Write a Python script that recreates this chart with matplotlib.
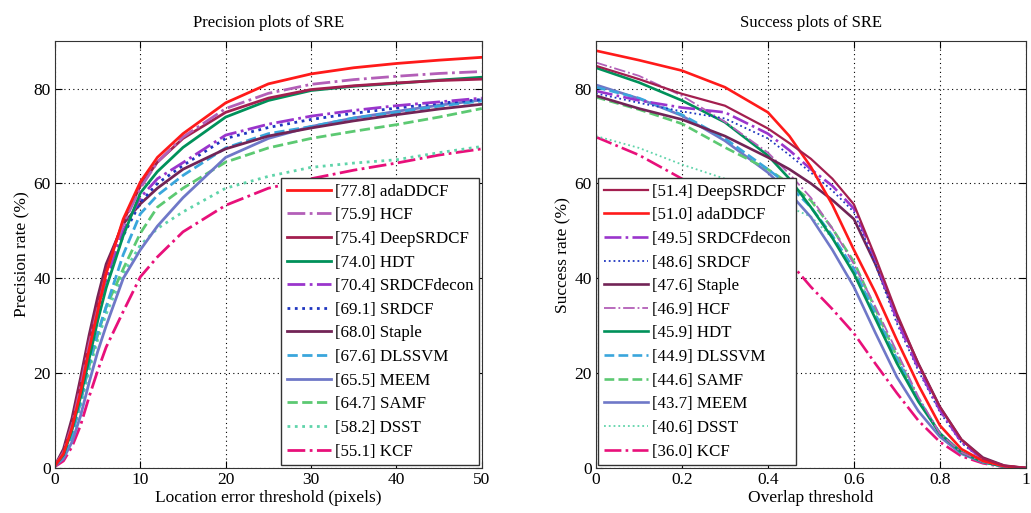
import numpy as np
import matplotlib
matplotlib.use("Agg")
import matplotlib.pyplot as plt

plt.rcParams['font.family'] = ['Liberation Serif', 'DejaVu Serif']

# ---- precision plot data (location error threshold in pixels) ----
prec_x = [0, 1, 2, 3, 4, 5, 6, 8, 10, 12, 15, 20, 25, 30, 35, 40, 45, 50]
prec_names = ["adaDDCF", "HCF", "DeepSRDCF", "HDT", "SRDCFdecon", "SRDCF",
              "Staple", "DLSSVM", "MEEM", "SAMF", "DSST", "KCF"]
prec_scores = [77.8, 75.9, 75.4, 74.0, 70.4, 69.1, 68.0, 67.6, 65.5, 64.7, 58.2, 55.1]
prec_adaDDCF = [0.5, 3, 8.5, 16, 25, 33, 41, 52.5, 60.3, 65.5, 70.5, 77, 81, 83.1, 84.4, 85.3, 86, 86.6]
prec_HCF = [0.5, 3.3, 9, 17, 26, 33.5, 41, 51.5, 59, 64.5, 69.8, 75.8, 79, 80.9, 81.9, 82.6, 83.2, 83.6]
prec_DeepSRDCF = [0.5, 3.5, 9.5, 18, 27, 34.5, 42, 52, 59.5, 64.5, 69.5, 75, 78, 79.8, 80.6, 81.2, 81.7, 82]
prec_HDT = [0.5, 2.8, 8, 15, 23, 31, 38, 49, 58, 62.5, 67.6, 74, 77.5, 79.6, 80.5, 81.1, 81.8, 82.4]
prec_SRDCFdecon = [0.5, 3.2, 9, 17, 25.5, 33, 40, 50, 57, 61, 64.4, 70.2, 72.5, 74.2, 75.4, 76.4, 77.2, 78]
prec_SRDCF = [0.5, 3, 8.8, 16.5, 25, 32.5, 39.5, 49, 56, 60, 63.8, 69.5, 71.8, 73.5, 74.8, 75.9, 76.9, 77.7]
prec_Staple = [0.5, 4, 10.5, 19, 28, 36, 43, 51.5, 55.7, 59, 63, 67.3, 70, 71.7, 73.2, 74.5, 75.7, 76.7]
prec_DLSSVM = [0.5, 2.5, 7, 14, 22, 28.5, 34, 45, 53.6, 57.5, 61.7, 67.5, 70.5, 72, 73.8, 75, 76.3, 77.4]
prec_MEEM = [0.5, 2, 5.5, 11, 18, 24.5, 30, 40, 46, 51, 57, 65.5, 69.5, 72, 73.8, 75.2, 76.5, 77.6]
prec_SAMF = [0.5, 2.5, 7, 14, 21.5, 28, 34, 42, 49.5, 55, 59, 64.5, 67.5, 69.5, 71, 72.4, 74, 75.8]
prec_DSST = [0.5, 2.2, 6.5, 13, 20.5, 27, 32.5, 41, 47, 50.5, 54, 59, 61.5, 63.4, 64.3, 65, 66.5, 67.8]
prec_KCF = [0.3, 1.5, 4.5, 9, 15, 20.5, 25.5, 33, 40.3, 44.5, 49.8, 55.4, 59, 61, 62.8, 64.3, 66, 67.3]

# ---- success plot data (overlap threshold) ----
succ_x = [0, .1, .2, .3, .4, .45, .5, .55, .6, .65, .7, .75, .8, .85, .9, .95, 1]
succ_names = ["DeepSRDCF", "adaDDCF", "SRDCFdecon", "SRDCF", "Staple", "HCF",
              "HDT", "DLSSVM", "SAMF", "MEEM", "DSST", "KCF"]
succ_scores = [51.4, 51.0, 49.5, 48.6, 47.6, 46.9, 45.9, 44.9, 44.6, 43.7, 40.6, 36.0]
succ_DeepSRDCF = [84.8, 82, 78.9, 76.4, 71.6, 68.5, 65.2, 61, 55.6, 44.5, 32.6, 22, 12.9, 6, 2, 0.5, 0]
succ_adaDDCF = [88, 86, 83.8, 80.3, 75, 70, 63.5, 55.5, 46, 37, 27, 17.5, 9, 4, 1.5, 0.4, 0]
succ_SRDCFdecon = [79.5, 77.5, 76, 75, 70.5, 67, 63, 59.5, 54.7, 44, 31.2, 21, 12.2, 5.5, 1.8, 0.4, 0]
succ_SRDCF = [79, 77, 75.2, 73.7, 69.5, 66, 62.3, 58.5, 54, 43, 30.5, 20.5, 11.8, 5.3, 1.7, 0.4, 0]
succ_Staple = [78.5, 75.8, 73.5, 70, 65.5, 63, 60, 56.5, 52.5, 43, 32, 22, 12.9, 6, 2.2, 0.5, 0]
succ_HCF = [85.5, 82.7, 78.5, 73, 66.5, 62, 57, 50.5, 43, 34, 24.5, 15, 7.3, 3.3, 1.3, 0.3, 0]
succ_HDT = [84.4, 81.3, 77.5, 72.9, 65.9, 61, 55, 48.5, 41, 31.5, 22.1, 14, 7.3, 3.3, 1.3, 0.3, 0]
succ_DLSSVM = [80.3, 78, 74.5, 69.5, 63, 59.5, 55, 49, 42, 32.5, 23, 14.5, 7.3, 3.3, 1.3, 0.3, 0]
succ_SAMF = [78.2, 75.6, 72.6, 67.6, 63, 60, 56.4, 50.5, 43.5, 33.5, 23.5, 14.5, 7.3, 3.3, 1.3, 0.3, 0]
succ_MEEM = [80.8, 77.9, 74.3, 69, 62.3, 58, 52.9, 46, 38.2, 28.5, 19.2, 12, 6.6, 3, 1.2, 0.3, 0]
succ_DSST = [70, 67.5, 64, 61, 57, 55, 53, 48.5, 42, 32.5, 23, 14.5, 7, 3.2, 1.2, 0.3, 0]
succ_KCF = [69.8, 66, 61, 55, 48.5, 43.5, 38.2, 33.5, 28.4, 22, 15.8, 10, 5.5, 2.5, 1, 0.2, 0]

styles = {
    "adaDDCF":    dict(color="#ff1a1a", ls="-"),
    "HCF":        dict(color="#b35fb8", ls="-."),
    "DeepSRDCF":  dict(color="#a31f4f", ls="-"),
    "HDT":        dict(color="#00915a", ls="-"),
    "SRDCFdecon": dict(color="#9a35cc", ls="-."),
    "SRDCF":      dict(color="#1f36c0", ls=":"),
    "Staple":     dict(color="#722456", ls="-"),
    "DLSSVM":     dict(color="#3aa6dc", ls="--"),
    "MEEM":       dict(color="#6f78c8", ls="-"),
    "SAMF":       dict(color="#5cc972", ls="--"),
    "DSST":       dict(color="#5fd4aa", ls=":"),
    "KCF":        dict(color="#e8107a", ls="-."),
}
succ_lw = {"DeepSRDCF": 1.6, "SRDCF": 1.3, "HCF": 1.3, "DSST": 1.3}

prec_data = dict(zip(prec_names, [prec_adaDDCF, prec_HCF, prec_DeepSRDCF, prec_HDT,
                                  prec_SRDCFdecon, prec_SRDCF, prec_Staple, prec_DLSSVM,
                                  prec_MEEM, prec_SAMF, prec_DSST, prec_KCF]))
succ_data = dict(zip(succ_names, [succ_DeepSRDCF, succ_adaDDCF, succ_SRDCFdecon, succ_SRDCF,
                                  succ_Staple, succ_HCF, succ_HDT, succ_DLSSVM,
                                  succ_SAMF, succ_MEEM, succ_DSST, succ_KCF]))

fig = plt.figure(figsize=(10.31, 5.13), dpi=100)
ax1 = fig.add_axes([0.0533, 0.0877, 0.414, 0.832])
ax2 = fig.add_axes([0.578, 0.0877, 0.417, 0.832])

# draw in reverse so the best tracker sits on top
for name, score in reversed(list(zip(prec_names, prec_scores))):
    st = styles[name]
    ax1.plot(prec_x, prec_data[name], color=st["color"], linestyle=st["ls"], lw=2.0,
             label="[%.1f] %s" % (score, name))
for name, score in reversed(list(zip(succ_names, succ_scores))):
    st = styles[name]
    ax2.plot(succ_x, succ_data[name], color=st["color"], linestyle=st["ls"],
             lw=succ_lw.get(name, 1.9), label="[%.1f] %s" % (score, name))

legend_opts = {
    "fontsize": 12.2,
    "labelspacing": 0.45,
    "handlelength": 2.6,
    "handletextpad": 0.2,
    "borderaxespad": 0.15,
    "borderpad": 0.35,
    "fancybox": False,
    "framealpha": 1.0,
    "edgecolor": "#333333",
}

for ax, title, xlabel, ylabel in [
        (ax1, "Precision plots of SRE", "Location error threshold (pixels)", "Precision rate (%)"),
        (ax2, "Success plots of SRE", "Overlap threshold", "Success rate (%)")]:
    ax.set_ylim(0, 90)
    ax.set_yticks([0, 20, 40, 60, 80])
    ax.grid(True, color="black", linestyle=(0, (1, 3)), linewidth=0.8)
    ax.tick_params(direction="in", top=True, right=True, labelsize=12.5, length=5, pad=3)
    ax.set_title(title, fontsize=12, pad=10)
    ax.set_xlabel(xlabel, fontsize=12.5, labelpad=1)
    ax.set_ylabel(ylabel, fontsize=12.5, labelpad=2)
    for sp in ax.spines.values():
        sp.set_color("#333333")

ax1.set_xlim(0, 50)
ax1.set_xticks([0, 10, 20, 30, 40, 50])
ax2.set_xlim(0, 1)
ax2.set_xticks([0, 0.2, 0.4, 0.6, 0.8, 1])
ax2.set_xticklabels(["0", "0.2", "0.4", "0.6", "0.8", "1"])

h, l = ax1.get_legend_handles_labels()
ax1.legend(h[::-1], l[::-1], loc="lower right", **legend_opts)
h, l = ax2.get_legend_handles_labels()
ax2.legend(h[::-1], l[::-1], loc="lower left", **legend_opts)

fig.savefig("out.png", dpi=100)
